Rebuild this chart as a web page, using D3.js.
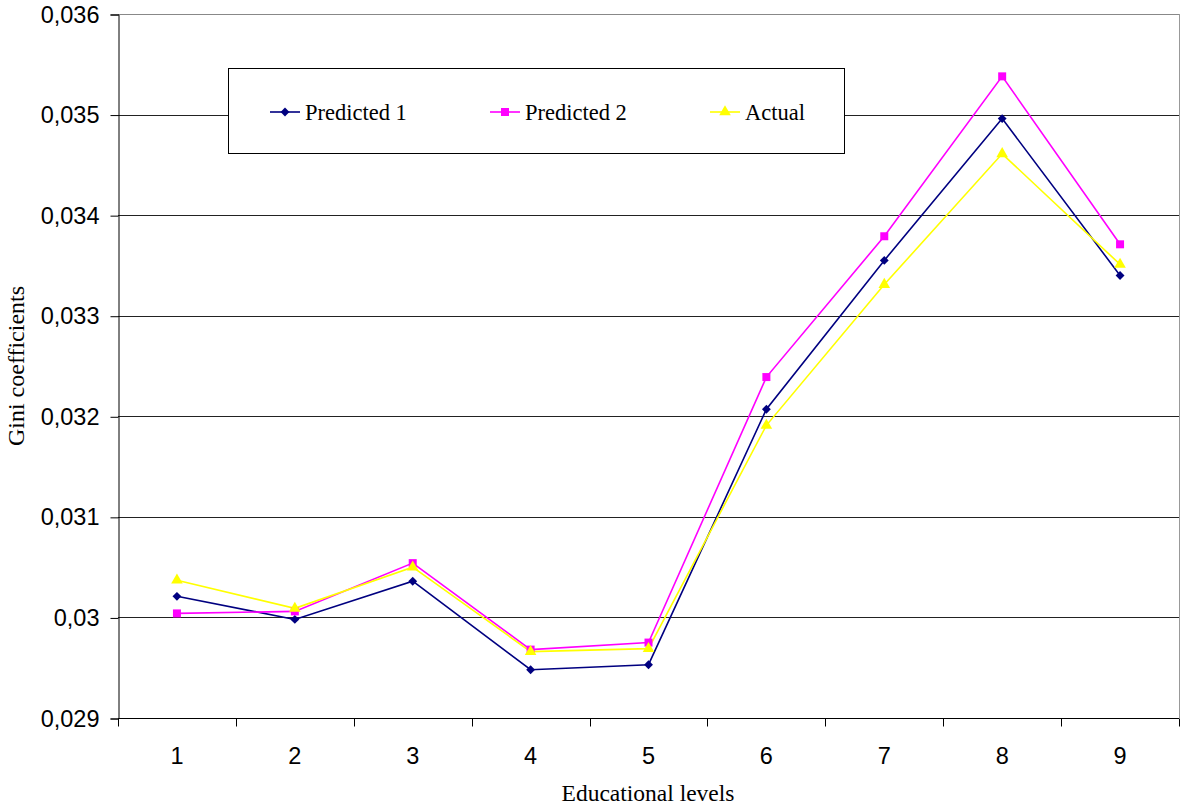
<!DOCTYPE html>
<html>
<head>
<meta charset="utf-8">
<script src="https://cdn.jsdelivr.net/npm/d3@7"></script>
<style>
  html, body { margin: 0; padding: 0; background: #fff; }
  svg { display: block; }
</style>
</head>
<body>
<svg id="chart" width="1181" height="805"></svg>
<script>
// Educational levels on the x axis
const levels = ["1", "2", "3", "4", "5", "6", "7", "8", "9"];

// Gini coefficients per level
const predicted1 = [0.03021, 0.02998, 0.03036, 0.02948, 0.02953, 0.03207, 0.03355, 0.03496, 0.03340];
const predicted2 = [0.03004, 0.03006, 0.03054, 0.02968, 0.02975, 0.03239, 0.03379, 0.03538, 0.03371];
const actual     = [0.03037, 0.03009, 0.03050, 0.02966, 0.02969, 0.03191, 0.03331, 0.03461, 0.03351];

const yTicks = [0.029, 0.030, 0.031, 0.032, 0.033, 0.034, 0.035, 0.036];

const series = [
  { name: "Predicted 1", values: predicted1, color: "#000080", symbol: d3.symbolDiamond2 || d3.symbolDiamond, size: 50 },
  { name: "Predicted 2", values: predicted2, color: "#FF00FF", symbol: d3.symbolSquare, size: 64 },
  { name: "Actual",      values: actual,     color: "#FFFF00", symbol: d3.symbolTriangle, size: 58 }
];

const sansFont = "Liberation Sans, Arial, sans-serif";
const serifFont = "Liberation Serif, Times New Roman, serif";

const svg = d3.select("#chart");
const plotLeft = 118, plotRight = 1179, plotTop = 14, plotBottom = 718;

const x = d3.scaleBand().domain(levels).range([plotLeft, plotRight]);
const y = d3.scaleLinear().domain([0.029, 0.036]).range([plotBottom, plotTop]);

// Horizontal gridlines
svg.append("g")
  .selectAll("line")
  .data(yTicks.slice(1))
  .join("line")
  .attr("x1", plotLeft).attr("x2", plotRight)
  .attr("y1", d => Math.round(y(d)) + 0.5).attr("y2", d => Math.round(y(d)) + 0.5)
  .attr("stroke", d => d === 0.036 ? "#888" : "#222")
  .attr("stroke-width", 1);

// Right border of the plot area
svg.append("line")
  .attr("x1", plotRight + 0.5).attr("x2", plotRight + 0.5)
  .attr("y1", plotTop).attr("y2", plotBottom)
  .attr("stroke", "#999");

// Y axis, decimal comma, trailing zeros dropped
const yAxis = d3.axisLeft(y)
  .tickValues(yTicks)
  .tickFormat(d => String(+d.toFixed(3)).replace(".", ","))
  .tickSize(8)
  .tickPadding(11);
const gy = svg.append("g").attr("transform", `translate(${plotLeft + 0.5},0.5)`).call(yAxis);
gy.select(".domain").attr("stroke", "#000");
gy.selectAll(".tick line").attr("stroke", "#000");
gy.selectAll("text")
  .attr("font-family", sansFont)
  .attr("font-size", 23.5)
  .attr("fill", "#000");

// X axis with ticks between categories
const gx = svg.append("g").attr("transform", `translate(0,${plotBottom + 0.5})`);
gx.append("line").attr("x1", plotLeft).attr("x2", plotRight).attr("stroke", "#000");
const bounds = levels.map(d => x(d)).concat([plotRight]);
gx.selectAll("line.tk")
  .data(bounds)
  .join("line")
  .attr("class", "tk")
  .attr("x1", d => Math.round(d) + 0.5).attr("x2", d => Math.round(d) + 0.5)
  .attr("y1", 0).attr("y2", 8)
  .attr("stroke", "#000");
gx.selectAll("text")
  .data(levels)
  .join("text")
  .attr("x", d => x(d) + x.bandwidth() / 2)
  .attr("y", 45)
  .attr("text-anchor", "middle")
  .attr("font-family", sansFont)
  .attr("font-size", 23.5)
  .attr("fill", "#000")
  .text(d => d);

// Series lines and markers
const line = d3.line()
  .x((d, i) => x(levels[i]) + x.bandwidth() / 2)
  .y(d => y(d));

series.forEach(s => {
  svg.append("path")
    .datum(s.values)
    .attr("d", line)
    .attr("fill", "none")
    .attr("stroke", s.color)
    .attr("stroke-width", 1.6);
});
series.forEach(s => {
  svg.append("g")
    .selectAll("path")
    .data(s.values)
    .join("path")
    .attr("transform", (d, i) => `translate(${x(levels[i]) + x.bandwidth() / 2},${y(d)})`)
    .attr("d", d3.symbol(s.symbol, s.size))
    .attr("fill", s.color);
});

// Legend
const lg = svg.append("g");
lg.append("rect")
  .attr("x", 228.5).attr("y", 68.5)
  .attr("width", 616).attr("height", 85)
  .attr("fill", "#fff")
  .attr("stroke", "#000");
const legendX = [270, 490, 710];
series.forEach((s, i) => {
  const g = lg.append("g").attr("transform", `translate(${legendX[i]},112)`);
  g.append("line").attr("x1", 0).attr("x2", 30).attr("stroke", s.color).attr("stroke-width", 1.6);
  g.append("path").attr("transform", "translate(15,0)").attr("d", d3.symbol(s.symbol, s.size)).attr("fill", s.color);
  g.append("text")
    .attr("x", 35).attr("y", 8)
    .attr("font-family", serifFont)
    .attr("font-size", 22.5)
    .attr("fill", "#000")
    .text(s.name);
});

// Axis titles
svg.append("text")
  .attr("x", 648).attr("y", 801)
  .attr("text-anchor", "middle")
  .attr("font-family", serifFont)
  .attr("font-size", 23.5)
  .text("Educational levels");
svg.append("text")
  .attr("transform", "translate(24,366) rotate(-90)")
  .attr("text-anchor", "middle")
  .attr("font-family", serifFont)
  .attr("font-size", 24)
  .text("Gini coefficients");
</script>
</body>
</html>
